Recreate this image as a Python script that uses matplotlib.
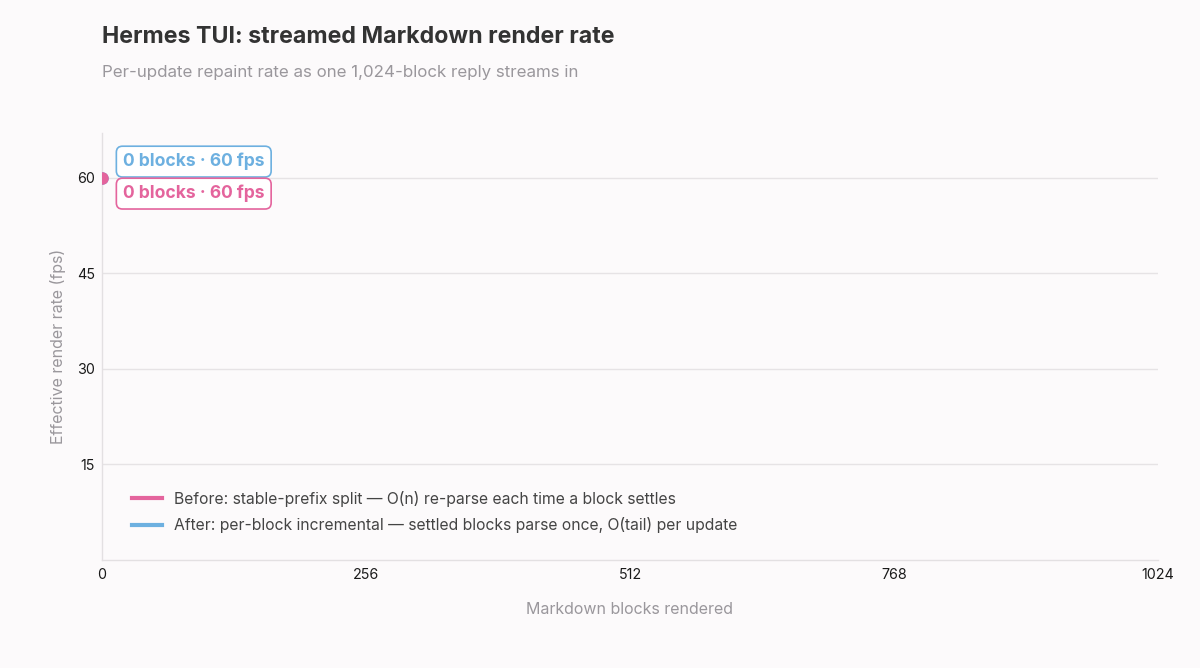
import matplotlib
matplotlib.use("Agg")
import matplotlib.pyplot as plt

plt.rcParams['font.family'] = ['Inter', 'DejaVu Sans']

# Data
before_blocks = [0]
before_fps = [60]
after_blocks = [0]
after_fps = [60]
x_ticks = [0, 256, 512, 768, 1024]
y_ticks = [15, 30, 45, 60]
labels = ["Before: stable-prefix split — O(n) re-parse each time a block settles",
          "After: per-block incremental — settled blocks parse once, O(tail) per update"]

PINK = "#E4649D"
BLUE = "#6DB0E0"
BG = "#FCFAFB"

fig = plt.figure(figsize=(12, 6.68), dpi=100, facecolor=BG)
ax = fig.add_axes([102/1200, 1 - 560/668, (1158-102)/1200, (560-133)/668])
ax.set_facecolor(BG)

l1, = ax.plot(before_blocks, before_fps, color=PINK, lw=3, marker='o', ms=8,
              clip_on=True, zorder=4, label=labels[0])
l2, = ax.plot(after_blocks, after_fps, color=BLUE, lw=3, marker='o', ms=8,
              clip_on=True, zorder=3, label=labels[1])

ax.set_xlim(0, 1024)
ax.set_ylim(0, 67)
ax.set_xticks(x_ticks)
ax.set_xticklabels([str(t) for t in x_ticks])
ax.set_yticks(y_ticks)
ax.grid(axis='y', color='#E6E3E5', lw=1)
ax.set_axisbelow(True)
for s in ['top', 'right']:
    ax.spines[s].set_visible(False)
for s in ['left', 'bottom']:
    ax.spines[s].set_color('#E3E0E2')
    ax.spines[s].set_linewidth(1)
ax.tick_params(length=0, labelsize=10.3, colors='#1a1a1a')
ax.tick_params(axis='y', pad=5)
ax.tick_params(axis='x', pad=6)

ax.set_xlabel("Markdown blocks rendered", fontsize=11.5, color='#9A979C', labelpad=14)
ax.set_ylabel("Effective render rate (fps)", fontsize=11.5, color='#9A979C', labelpad=8)

# Annotations
ax.annotate(f"{after_blocks[0]} blocks · {after_fps[0]} fps", xy=(after_blocks[0], after_fps[0]),
            xytext=(21, 16), textcoords='offset pixels', ha='left', va='center',
            fontsize=12.6, fontweight='bold', color=BLUE,
            bbox=dict(boxstyle='round,pad=0.38,rounding_size=0.35', fc='white', ec=BLUE, lw=1.2),
            zorder=6)
ax.annotate(f"{before_blocks[0]} blocks · {before_fps[0]} fps", xy=(before_blocks[0], before_fps[0]),
            xytext=(21, -16), textcoords='offset pixels', ha='left', va='center',
            fontsize=12.6, fontweight='bold', color=PINK,
            bbox=dict(boxstyle='round,pad=0.38,rounding_size=0.35', fc='white', ec=PINK, lw=1.2),
            zorder=6)

leg = ax.legend(handles=[l1, l2], loc='lower left', bbox_to_anchor=(0.015, 0.03),
                frameon=False, fontsize=11.3, labelcolor='#444444', handlelength=1.9,
                handletextpad=0.75, labelspacing=0.65)
for h in leg.legend_handles:
    h.set_marker('')

fig.text(102/1200, 1 - 37/668, "Hermes TUI: streamed Markdown render rate",
         fontsize=16.7, fontweight='bold', color='#333333', ha='left', va='center')
fig.text(102/1200, 1 - 73/668, "Per-update repaint rate as one 1,024-block reply streams in",
         fontsize=12.2, color='#9A979C', ha='left', va='center')

fig.savefig("out.png", dpi=100, facecolor=BG)
